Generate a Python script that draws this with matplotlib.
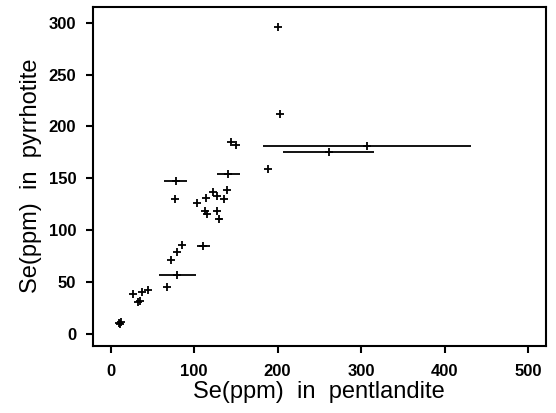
import matplotlib
matplotlib.use("Agg")
import matplotlib.pyplot as plt

# Se contents
pent = [200, 203, 144, 150, 307, 261, 188, 141, 78, 77, 104, 114, 123, 127,
        136, 140, 113, 116, 128, 130, 86, 111, 80, 72, 80, 68, 27, 38, 45,
        33, 35, 10, 12, 11]
pyrr = [296, 212, 185, 182, 181, 175.5, 159, 154, 147, 130, 126.5, 131, 137, 133,
        130, 139, 118, 116, 118, 111, 86, 85, 79, 71.5, 57, 45, 38.6, 40, 42,
        31, 32, 10, 11, 9]
pent_err = [0, 0, 0, 0, 124, 54, 0, 14, 14, 0, 0, 0, 0, 0,
            0, 0, 0, 0, 0, 3, 0, 8, 0, 0, 22, 0, 0, 0, 0,
            0, 0, 0, 0, 0]

plt.rcParams['font.family'] = ['Liberation Sans', 'DejaVu Sans']

fig = plt.figure(figsize=(5.56, 4.13), dpi=100)
ax = fig.add_axes([0.1673, 0.1634, 0.8142, 0.8204])

ax.errorbar(pent, pyrr, xerr=pent_err, fmt='+', color='black', ecolor='black',
            markersize=5.5, markeredgewidth=1.3, elinewidth=1.3, capsize=0)

ax.set_xlim(-21, 521)
ax.set_ylim(-11.3, 315.5)
ax.set_xticks([0, 100, 200, 300, 400, 500])
ax.set_yticks([0, 50, 100, 150, 200, 250, 300])
ax.tick_params(direction='out', length=5, width=1.5, labelsize=12)
ax.tick_params(axis='x', pad=8)
ax.tick_params(axis='y', pad=7)
for lab in ax.get_xticklabels() + ax.get_yticklabels():
    lab.set_fontweight('bold')
for s in ax.spines.values():
    s.set_linewidth(1.5)

ax.set_xlabel("Se(ppm)  in  pentlandite", fontsize=17, labelpad=2)
ax.set_ylabel("Se(ppm)  in  pyrrhotite", fontsize=17, labelpad=5)

fig.savefig("out.png", dpi=100)
